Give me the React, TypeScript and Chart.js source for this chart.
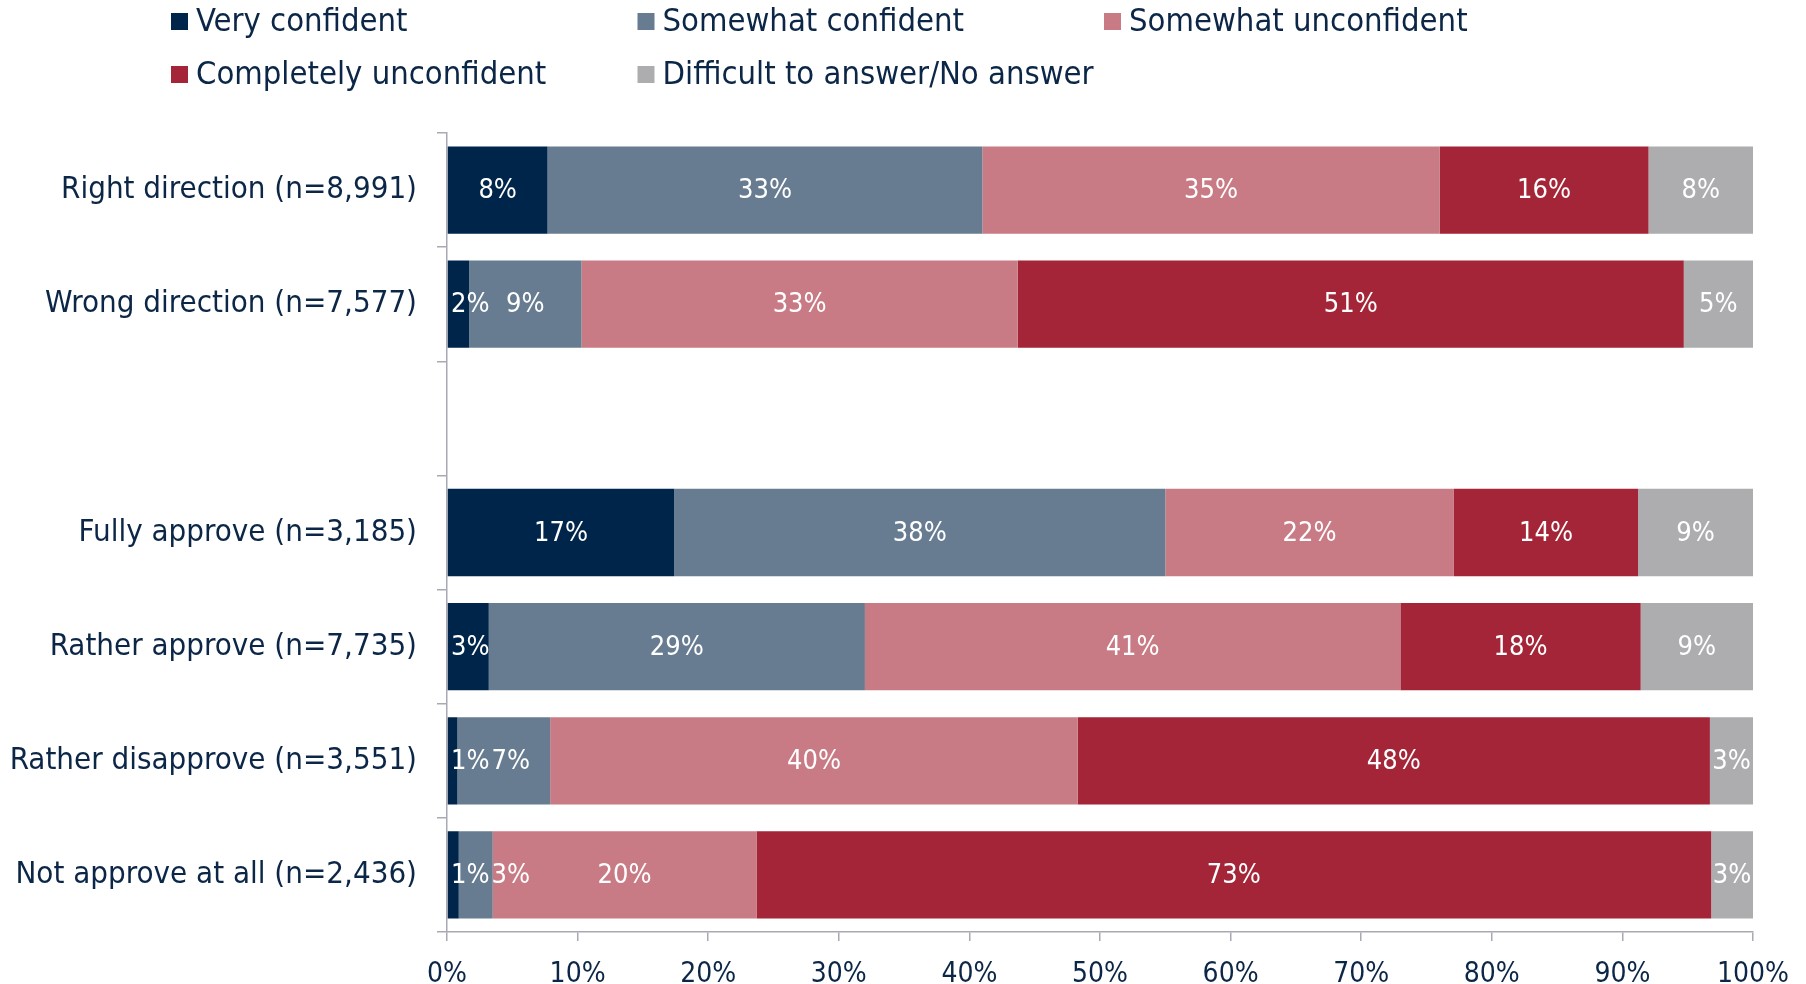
import React, { useEffect, useRef } from "react";
import { Chart, registerables } from "chart.js";

Chart.register(...registerables);

const categories = [
  "Right direction (n=8,991)",
  "Wrong direction (n=7,577)",
  "",
  "Fully approve (n=3,185)",
  "Rather approve (n=7,735)",
  "Rather disapprove (n=3,551)",
  "Not approve at all (n=2,436)",
];

const seriesNames = [
  "Very confident",
  "Somewhat confident",
  "Somewhat unconfident",
  "Completely unconfident",
  "Difficult to answer/No answer",
];

const veryConfident = [7.7, 1.7, null, 17.4, 3.2, 0.8, 0.9];
const somewhatConfident = [33.3, 8.6, null, 37.6, 28.8, 7.1, 2.6];
const somewhatUnconfident = [35.0, 33.4, null, 22.1, 41.0, 40.4, 20.2];
const completelyUnconfident = [16.0, 51.0, null, 14.1, 18.4, 48.4, 73.1];
const difficultNoAnswer = [8.0, 5.3, null, 8.8, 8.6, 3.3, 3.2];

const seriesColors = ["#00254A", "#677C91", "#C87B85", "#A32537", "#ADADAF"];

const xTicks = [0, 10, 20, 30, 40, 50, 60, 70, 80, 90, 100];

const TEXT = "#0B2646";
const AXIS = "#A7AAB2";
const FONT = "'DejaVu Sans Condensed', 'DejaVu Sans', sans-serif";

const legendPlugin = {
  id: "gridLegend",
  afterDraw(chart: any) {
    const ctx = chart.ctx;
    ctx.save();
    ctx.font = `32.5px ${FONT}`;
    ctx.textBaseline = "middle";
    ctx.textAlign = "left";
    chart.data.datasets.forEach((ds: any, i: number) => {
      const col = i % 3;
      const row = Math.floor(i / 3);
      const x = 171 + col * 466.5;
      const cy = 21.5 + row * 53;
      ctx.fillStyle = ds.backgroundColor;
      ctx.fillRect(x, cy - 8.5, 17, 17);
      ctx.fillStyle = TEXT;
      ctx.fillText(ds.label, x + 25, cy + 1);
    });
    ctx.restore();
  },
};

const labelPlugin = {
  id: "segLabels",
  afterDatasetsDraw(chart: any) {
    const ctx = chart.ctx;
    const left = chart.chartArea.left;
    ctx.save();
    ctx.font = `27px ${FONT}`;
    ctx.fillStyle = "#FFFFFF";
    ctx.textBaseline = "middle";
    ctx.textAlign = "left";
    const n = chart.data.labels.length;
    for (let i = 0; i < n; i++) {
      let prevRight = left + 4;
      chart.data.datasets.forEach((ds: any, d: number) => {
        const v = ds.data[i];
        if (v === null || v === undefined) return;
        const el = chart.getDatasetMeta(d).data[i] as any;
        if (!el) return;
        const txt = Math.round(v) + "%";
        const w = ctx.measureText(txt).width;
        const cx = (el.x + el.base) / 2;
        let lx = cx - w / 2;
        if (lx < prevRight) lx = prevRight;
        ctx.fillText(txt, lx, el.y + 1);
        prevRight = lx + w + 2;
      });
    }
    ctx.restore();
  },
};

export default function App() {
  const ref = useRef<HTMLCanvasElement>(null);
  useEffect(() => {
    if (!ref.current) return;
    const values = [
      veryConfident,
      somewhatConfident,
      somewhatUnconfident,
      completelyUnconfident,
      difficultNoAnswer,
    ];
    const chart = new Chart(ref.current, {
      type: "bar",
      data: {
        labels: categories,
        datasets: values.map((arr, i) => ({
          label: seriesNames[i],
          data: arr,
          backgroundColor: seriesColors[i],
          borderWidth: 0,
          categoryPercentage: 1,
          barPercentage: 0.765,
        })),
      },
      options: {
        indexAxis: "y",
        responsive: false,
        animation: false,
        layout: { padding: { top: 133, right: 51, left: 0, bottom: 0 } },
        plugins: {
          legend: { display: false },
          tooltip: { enabled: false },
        },
        scales: {
          x: {
            stacked: true,
            min: 0,
            max: 100,
            afterFit(scale: any) {
              scale.height = 52;
            },
            afterBuildTicks(scale: any) {
              scale.ticks = xTicks.map((v) => ({ value: v }));
            },
            ticks: {
              callback: (v: any) => v + "%",
              color: TEXT,
              font: { family: FONT, size: 28 },
              padding: 17,
              maxRotation: 0,
            },
            grid: {
              drawOnChartArea: false,
              drawTicks: true,
              tickLength: 9,
              color: AXIS,
              lineWidth: 1.5,
            },
            border: { display: true, color: AXIS, width: 1.5 },
          },
          y: {
            stacked: true,
            afterFit(scale: any) {
              scale.width = 447;
            },
            ticks: {
              color: TEXT,
              font: { family: FONT, size: 31 },
              padding: 20,
            },
            grid: {
              offset: true,
              drawOnChartArea: false,
              drawTicks: true,
              tickLength: 10,
              color: AXIS,
              lineWidth: 1.5,
            },
            border: { display: true, color: AXIS, width: 1.5 },
          },
        },
      } as any,
      plugins: [legendPlugin, labelPlugin],
    });
    return () => chart.destroy();
  }, []);
  return (
    <div style={{ position: "absolute", left: 0, top: 0, width: 1806, height: 984, background: "#fff" }}>
      <canvas ref={ref} width={1806} height={984} style={{ display: "block" }} />
    </div>
  );
}
